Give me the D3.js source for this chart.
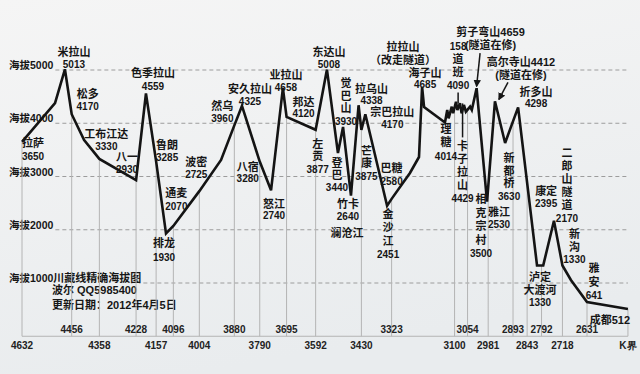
<!DOCTYPE html>
<html lang="zh">
<head>
<meta charset="utf-8">
<title>川藏线精确海拔图</title>
<script src="https://d3js.org/d3.v7.min.js"></script>
<style>
  html, body { margin: 0; padding: 0; background: #eef0f1; }
  svg { display: block; }
  .cjk { font: bold 11px "Liberation Sans", "Noto Sans CJK SC", sans-serif; fill: #161616; }
  .num { font: bold 10px "Liberation Sans", sans-serif; fill: #161616; }
  .tick { font: bold 10px "Liberation Sans", sans-serif; fill: #222; }
  .grid { stroke: #9c9c9c; stroke-width: 1; stroke-dasharray: 4 3; }
  .drop { stroke: #b4b4b4; stroke-width: 1; }
</style>
</head>
<body>
<svg width="640" height="374"></svg>
<script>
// G318 road km of the drop lines, two rows of labels under the chart
var upperTicks = [4456, 4228, 4096, 3880, 3695, 3323, 3054, 2893, 2792, 2631];
var lowerTicks = [4632, 4358, 4157, 4004, 3790, 3592, 3430, 3100, 2981, 2843, 2718, 2486];
var lowerTickLabels = ["4632", "4358", "4157", "4004", "3790", "3592", "3430", "3100", "2981", "2843", "2718", "K界"];

// elevation grid (m)
var elevTicks = [5000, 4000, 3000, 2000, 1000];

// profile of the road: road km and elevation
var profileKm = [4632, 4515, 4480, 4456, 4412, 4358, 4228, 4193, 4157, 4122,
  4096, 4004, 3927, 3880, 3853, 3790, 3750, 3708, 3695, 3592,
  3552, 3513, 3495, 3467, 3440, 3430, 3416, 3339, 3323, 3258,
  3226, 3215, 3208, 3134, 3126, 3121, 3110, 3105, 3095, 3090,
  3081, 3075, 3067, 3060, 3045, 3039, 3022, 2985, 2957, 2921,
  2875, 2808, 2786, 2748, 2718, 2688, 2631, 2486];
var profileElev = [3650, 4380, 5013, 4170, 3685, 3330, 2930, 4559, 3285, 1930,
  2070, 2725, 3310, 3960, 4325, 3280, 2740, 4658, 4120, 3877,
  5008, 3440, 3930, 2640, 4338, 3875, 4170, 2451, 2580, 3066,
  3366, 4685, 4305, 4014, 4249, 4093, 4311, 4187, 4405, 4249,
  4375, 4187, 4343, 4217, 4311, 4249, 4659, 2530, 4412, 3630,
  4298, 1330, 1330, 2170, 1330, 1056, 641, 512];

// named places
var placeNames = ["拉萨", "米拉山", "松多", "工布江达", "八一", "色季拉山", "鲁朗", "排龙", "通麦", "波密",
  "然乌", "安久拉山", "八宿", "怒江", "业拉山", "邦达", "左贡", "东达山", "登巴", "觉巴山",
  "竹卡", "拉乌山", "芒康", "宗巴拉山", "金沙江", "巴糖", "海子山", "理糖", "158道班", "卡子拉山",
  "剪子弯山", "雅江", "高尔寺山", "新都桥", "折多山", "康定", "泸定", "二郎山隧道", "新沟", "雅安", "成都"];
var placeKm = [4632, 4480, 4456, 4358, 4228, 4193, 4157, 4122, 4096, 4004,
  3880, 3853, 3790, 3750, 3708, 3695, 3592, 3552, 3513, 3495,
  3467, 3440, 3430, 3416, 3339, 3323, 3215, 3134, 3091, 3054,
  3022, 2985, 2957, 2921, 2875, 2843, 2808, 2748, 2718, 2631, 2486];
var placeElev = [3650, 5013, 4170, 3330, 2930, 4559, 3285, 1930, 2070, 2725,
  3960, 4325, 3280, 2740, 4658, 4120, 3877, 5008, 3440, 3930,
  2640, 4338, 3875, 4170, 2451, 2580, 4685, 4014, 4090, 4429,
  4659, 2530, 4412, 3630, 4298, 2395, 1330, 2170, 1330, 641, 512];

// label layout: offsets from the place point, line height
var labels = [
  {at: "拉萨", lines: ["拉萨", "3650"], dx: 11, dy: 5},
  {at: "米拉山", lines: ["米拉山", "5013"], dx: 9, dy: -13, lh: 12},
  {at: "松多", lines: ["松多", "4170"], dx: 16, dy: -16, lh: 12},
  {at: "工布江达", lines: ["工布江达", "3330"], dx: 7, dy: -21, lh: 12},
  {at: "八一", lines: ["八一", "2930"], dx: -9, dy: -19, lh: 11.5},
  {at: "色季拉山", lines: ["色季拉山", "4559"], dx: 7, dy: -16},
  {at: "鲁朗", lines: ["鲁朗", "3285"], dx: 11, dy: -12, lh: 12},
  {at: "排龙", lines: ["排龙", "1930"], dx: -2, dy: 13.5, lh: 14},
  {at: "通麦", lines: ["通麦", "2070"], dx: 3, dy: -29},
  {at: "波密", lines: ["波密", "2725"], dx: -3, dy: -25, lh: 12},
  {at: "然乌", lines: ["然乌", "3960"], dx: -12, dy: -15, lh: 11.5},
  {at: "安久拉山", lines: ["安久拉山", "4325"], dx: 8, dy: -13, lh: 12},
  {at: "八宿", lines: ["八宿", "3280"], dx: -12, dy: 9, lh: 11},
  {at: "怒江", lines: ["怒江", "2740"], dx: 3, dy: 18, lh: 11},
  {at: "业拉山", lines: ["业拉山", "4658"], dx: 3, dy: -9, lh: 12},
  {at: "邦达", lines: ["邦达", "4120"], dx: 17, dy: -11, lh: 11},
  {at: "左贡", lines: ["左", "贡", "3877"], dx: 2, dy: 18, lh: 12.5},
  {at: "东达山", lines: ["东达山", "5008"], dx: 2, dy: -14, lh: 12},
  {at: "登巴", lines: ["登", "巴", "3440"], dx: -1, dy: 14, lh: 12},
  {at: "觉巴山", lines: ["觉", "巴", "山", "3930"], dx: 3, dy: -40, lh: 12.7},
  {at: "竹卡", lines: ["竹卡", "2640"], dx: -3, dy: 12, lh: 12},
  {at: "竹卡", lines: ["澜沧江"], dx: -4, dy: 41},
  {at: "拉乌山", lines: ["拉乌山", "4338"], dx: 13, dy: -12, lh: 11},
  {at: "芒康", lines: ["芒", "康", "3875"], dx: 5, dy: 25, lh: 12.5},
  {at: "宗巴拉山", lines: ["宗巴拉山", "4170"], dx: 27, dy: 2, lh: 12},
  {at: "金沙江", lines: ["金", "沙", "江", "2451"], dx: 1, dy: 12, lh: 13.5},
  {at: "巴糖", lines: ["巴糖", "2580"], dx: 0, dy: -27},
  {at: "海子山", lines: ["海子山", "4685"], dx: 3, dy: -10, lh: 11},
  {at: "海子山", lines: ["拉拉山", "（改走隧道）"], dx: -19, dy: -36},
  {at: "理糖", lines: ["理", "糖", "4014"], dx: 1, dy: 10, lh: 13.5},
  {at: "158道班", lines: ["158", "道", "班", "4090"], dx: 1, dy: -68, leader: [-26, -15]},
  {at: "卡子拉山", lines: ["卡", "子", "拉", "山", "4429"], dx: -5, dy: 50, leader: [3, 37]},
  {at: "剪子弯山", lines: ["剪子弯山4659", "(隧道在修)"], dx: 14, dy: -52, arrow: [3.5, -35, 0, -2]},
  {at: "雅江", lines: ["相", "克", "宗", "村", "3500"], dx: -6, dy: 1.5, lh: 13.5},
  {at: "雅江", lines: ["雅江", "2530"], dx: 12, dy: 14.5, lh: 12},
  {at: "高尔寺山", lines: ["高尔寺山4412", "(隧道在修)"], dx: 26, dy: -35, arrow: [13, -19, 4, -2]},
  {at: "新都桥", lines: ["新", "都", "桥", "3630"], dx: 4, dy: 19, lh: 12.7},
  {at: "折多山", lines: ["折多山", "4298"], dx: 18, dy: -11, lh: 11},
  {at: "康定", lines: ["康定", "2395"], dx: 19, dy: -14, lh: 12},
  {at: "泸定", lines: ["泸定", "大渡河", "1330"], dx: 3, dy: 16, lh: 12.5},
  {at: "二郎山隧道", lines: ["二", "郎", "山", "隧", "道", "2170"], dx: 13, dy: -64},
  {at: "新沟", lines: ["新", "沟", "1330"], dx: 12, dy: -27, lh: 12.5},
  {at: "雅安", lines: ["雅", "安", "641"], dx: 7, dy: -30, lh: 13.5},
  {at: "成都", lines: ["成都512"], dx: -18, dy: 15}
];

var width = 640, height = 374;
var svg = d3.select("svg");

var defs = svg.append("defs");
var bg = defs.append("linearGradient").attr("id", "paper")
  .attr("x1", 0).attr("y1", 0).attr("x2", 0.3).attr("y2", 1);
bg.append("stop").attr("offset", 0).attr("stop-color", "#f5f5f5");
bg.append("stop").attr("offset", 1).attr("stop-color", "#e9ecee");
defs.append("marker").attr("id", "head")
  .attr("viewBox", "0 0 6 6").attr("refX", 5).attr("refY", 3)
  .attr("markerWidth", 5).attr("markerHeight", 5).attr("orient", "auto")
  .append("path").attr("d", "M0,0L6,3L0,6Z").attr("fill", "#161616");

svg.append("rect").attr("width", width).attr("height", height).attr("fill", "url(#paper)");

var x = d3.scaleLinear().domain([4632, 2631]).range([22, 587]);
var y = d3.scaleLinear().domain([0, 5000]).range([336.25, 70]);
// elevation of the road at any km, to start the drop lines on the profile
var elevAt = d3.scaleLinear().domain(profileKm).range(profileElev);

// horizontal grid with its left labels
elevTicks.forEach(function(e) {
  var t = svg.append("text").attr("class", "cjk")
    .attr("x", 9).attr("y", y(e) - 1)
    .style("font-size", "10.5px")
    .text("海拔" + e);
  if (e === 1000) t.append("tspan").style("font-size", "11px").text("川藏线精确海拔图");
  var x0 = 9 + t.node().getComputedTextLength() + 2;
  svg.append("line").attr("class", "grid")
    .attr("x1", x0).attr("x2", x(2486))
    .attr("y1", y(e)).attr("y2", y(e));
});

svg.append("text").attr("class", "cjk").attr("x", 52).attr("y", y(1000) + 11).text("波尔 QQ5985400");
svg.append("text").attr("class", "cjk").attr("x", 52).attr("y", y(1000) + 26).text("更新日期：2012年4月5日");

// km axis
svg.append("line").attr("class", "drop")
  .attr("x1", x(4632)).attr("x2", x(2486))
  .attr("y1", y(0)).attr("y2", y(0));

svg.selectAll("line.dropline")
  .data(upperTicks.concat(lowerTicks))
  .enter().append("line")
  .attr("class", "drop dropline")
  .attr("x1", function(d) { return x(d); })
  .attr("x2", function(d) { return x(d); })
  .attr("y1", function(d) { return y(elevAt(d)); })
  .attr("y2", y(0));

svg.selectAll("text.up")
  .data(upperTicks)
  .enter().append("text")
  .attr("class", "tick up")
  .attr("text-anchor", "middle")
  .attr("x", function(d) { return x(d); })
  .attr("y", y(0) - 3.5)
  .text(function(d) { return d; });

svg.selectAll("text.low")
  .data(lowerTicks)
  .enter().append("text")
  .attr("class", "tick low")
  .attr("text-anchor", "middle")
  .attr("x", function(d) { return x(d); })
  .attr("y", y(0) + 12.5)
  .text(function(d, i) { return lowerTickLabels[i]; });

// the profile
var line = d3.line()
  .x(function(d) { return x(d[0]); })
  .y(function(d) { return y(d[1]); });

svg.append("path")
  .datum(d3.zip(profileKm, profileElev))
  .attr("fill", "none")
  .attr("stroke", "#141414")
  .attr("stroke-width", 2.6)
  .attr("stroke-linejoin", "miter")
  .attr("stroke-miterlimit", 3)
  .attr("d", line);

// place labels
labels.forEach(function(l) {
  var i = placeNames.indexOf(l.at);
  var ax = x(placeKm[i]), ay = y(placeElev[i]);
  var lh = l.lh || 13;
  var t = svg.append("text").attr("text-anchor", "middle");
  l.lines.forEach(function(s, j) {
    t.append("tspan")
      .attr("class", /^[0-9]+$/.test(s) ? "num" : "cjk")
      .attr("x", ax + l.dx)
      .attr("y", ay + l.dy + j * lh)
      .text(s);
  });
  if (l.leader) {
    svg.append("line")
      .attr("x1", ax + l.dx).attr("x2", ax + l.dx)
      .attr("y1", ay + l.leader[0]).attr("y2", ay + l.leader[1])
      .attr("stroke", "#161616").attr("stroke-width", 1.5);
  }
  if (l.arrow) {
    svg.append("line")
      .attr("x1", ax + l.arrow[0]).attr("y1", ay + l.arrow[1])
      .attr("x2", ax + l.arrow[2]).attr("y2", ay + l.arrow[3])
      .attr("stroke", "#161616").attr("stroke-width", 1.5)
      .attr("marker-end", "url(#head)");
  }
});
</script>
</body>
</html>
